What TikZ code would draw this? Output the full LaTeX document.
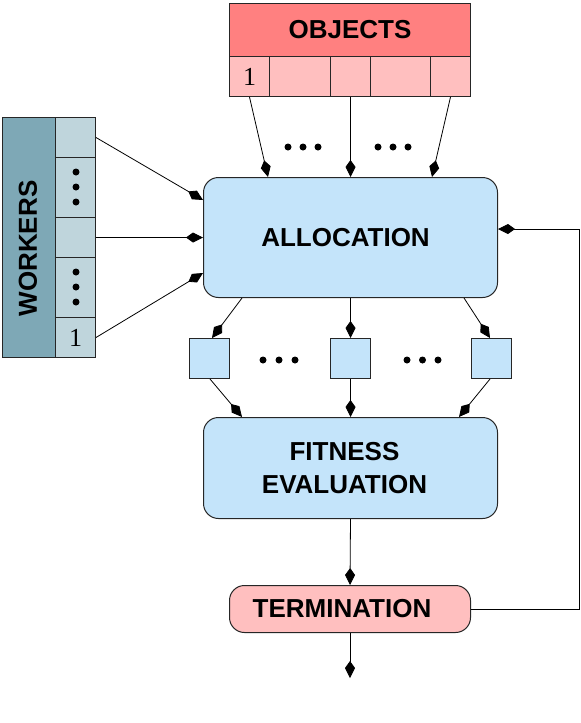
\documentclass[tikz,border=0pt]{standalone}
\usepackage{fontspec}
\setmainfont{Liberation Serif}
\newfontfamily\hvfont{Liberation Sans}
\usetikzlibrary{arrows.meta,calc}
\definecolor{objH}{RGB}{255,128,128}
\definecolor{objL}{RGB}{255,191,191}
\definecolor{wkD}{RGB}{126,168,182}
\definecolor{wkL}{RGB}{191,213,220}
\definecolor{blu}{RGB}{196,228,250}
\begin{document}
\begin{tikzpicture}[x=1pt,y=-1pt,
  box/.style={draw=black!85,line width=1pt,inner sep=0pt,anchor=north west},
  lab/.style={font=\hvfont\bfseries\fontsize{26}{33}\selectfont},
  num/.style={font=\fontsize{26}{30}\selectfont},
  arr/.style={line width=0.8pt,-{Kite[length=17pt,width=10pt,inset=7pt]}},
  dot/.style={fill=black}]
\useasboundingbox (0,0) rectangle (581,723);
% objects
\node[box,lab,fill=objH,minimum width=241pt,minimum height=53pt] (objects) at (229,3) {OBJECTS};
\node[box,num,fill=objL,minimum width=40pt,minimum height=40pt] (o1) at (229,56) {1};
\node[box,fill=objL,minimum width=61pt,minimum height=40pt] (o2) at (269,56) {};
\node[box,fill=objL,minimum width=40pt,minimum height=40pt] (o3) at (330,56) {};
\node[box,fill=objL,minimum width=60pt,minimum height=40pt] (o4) at (370,56) {};
\node[box,fill=objL,minimum width=40pt,minimum height=40pt] (o5) at (430,56) {};
% workers
\node[box,fill=wkD,minimum width=53pt,minimum height=240pt] (wk) at (2,117) {};
\node[lab,rotate=90] (wklab) at ($(wk.center)+(-1,11)$) {WORKERS};
\node[box,fill=wkL,minimum width=40pt,minimum height=40pt] (w1) at (55,117) {};
\node[box,fill=wkL,minimum width=40pt,minimum height=60pt] (w2) at (55,157) {};
\node[box,fill=wkL,minimum width=40pt,minimum height=40pt] (w3) at (55,217) {};
\node[box,fill=wkL,minimum width=40pt,minimum height=60pt] (w4) at (55,257) {};
\node[box,num,fill=wkL,minimum width=40pt,minimum height=40pt] (w5) at (55,317) {1};
\foreach \y in {172,187,202,272,287,302} \fill[dot] (76,\y) circle (3.5);
% allocation
\node[box,lab,fill=blu,rounded corners=15pt,minimum width=294pt,minimum height=120pt] (alloc) at (203,177) {ALLOCATION\rule{10pt}{0pt}};
\foreach \x in {288,303,318,378,393,408} \fill[dot] (\x,147) circle (3.5);
% squares
\node[box,fill=blu,minimum width=40pt,minimum height=40pt] (s1) at (189,338) {};
\node[box,fill=blu,minimum width=40pt,minimum height=40pt] (s2) at (330,338) {};
\node[box,fill=blu,minimum width=40pt,minimum height=40pt] (s3) at (471,338) {};
\foreach \x in {263,279,295,407,422.5,438} \fill[dot] (\x,360) circle (3.5);
% fitness
\node[box,lab,fill=blu,rounded corners=15pt,minimum width=294pt,minimum height=101pt,align=center] (fit) at (203,417) {FITNESS\rule{12pt}{0pt}\\EVALUATION\rule{12pt}{0pt}};
% termination
\node[box,lab,fill=objL,rounded corners=15pt,minimum width=241pt,minimum height=47pt] (term) at (229,585) {TERMINATION\rule{16pt}{0pt}};
\coordinate (out) at (350,678);
% arrows objects -> allocation
\draw[arr] (o1.south) -- ($(alloc.north west)+(65,0)$);
\draw[arr] (o3.south) -- (alloc.north);
\draw[arr] (o5.south) -- ($(alloc.north east)+(-66,0)$);
% workers -> allocation
\draw[arr] (w1.east) -- ($(alloc.north west)+(0,23)$);
\draw[arr] (w3.east) -- (alloc.west);
\draw[arr] (w5.east) -- ($(alloc.north west)+(0,96)$);
% allocation -> squares
\draw[arr] ($(alloc.south west)+(39,0)$) -- ($(s1.north west)+(23,0)$);
\draw[arr] (alloc.south) -- (s2.north);
\draw[arr] ($(alloc.south east)+(-34,0)$) -- ($(s3.north west)+(19,0)$);
% squares -> fitness
\draw[arr] ($(s1.south west)+(21,0)$) -- ($(fit.north west)+(39,0)$);
\draw[arr] (s2.south) -- (fit.north);
\draw[arr] ($(s3.south west)+(19,0)$) -- ($(fit.north east)+(-39,0)$);
% fitness -> termination -> out
\draw[arr] (fit.south) -- (term.north);
\draw[arr] (term.south) -- (out);
% feedback
\draw[arr] (term.east) -- ++(108,0) |- ($(alloc.north east)+(0,52)$);
\end{tikzpicture}
\end{document}
